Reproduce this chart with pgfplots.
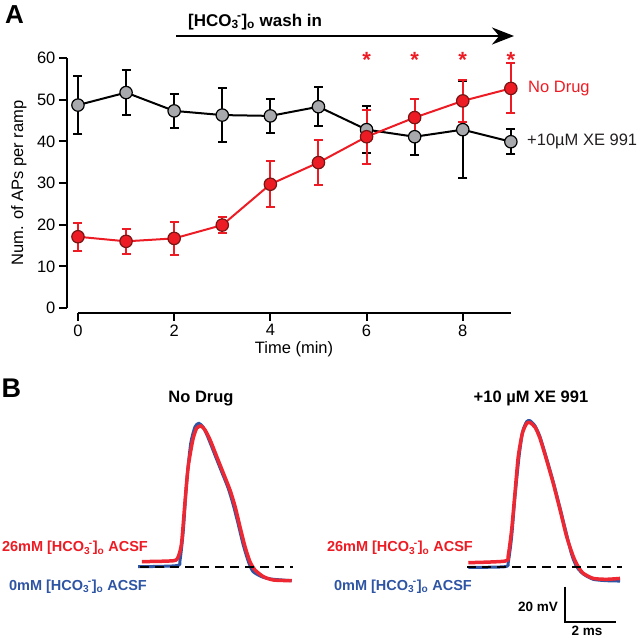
\documentclass[border=0pt]{standalone}
\usepackage{pgfplots}
\usepackage{pgfplotstable}
\pgfplotsset{compat=1.18}
\usepackage{fontspec}
\setmainfont{Liberation Sans}
\usetikzlibrary{arrows.meta}

\definecolor{ndred}{RGB}{237,28,36}
\definecolor{mkred}{RGB}{120,20,20}
\definecolor{trred}{RGB}{238,40,50}
\definecolor{trblue}{RGB}{46,84,164}
\definecolor{mgray}{RGB}{167,169,172}
\definecolor{txt}{RGB}{35,31,32}

\newcommand\fs[1]{\fontsize{#1bp}{#1bp}\selectfont}
\newcommand\hco{[HCO\textsubscript{3}\kern-0.1em\textsuperscript{-}]\textsubscript{o}}

% time (min), APs per ramp, error
\pgfplotstableread{
t n e
0 48.7 7.0
1 51.7 5.5
2 47.3 4.1
3 46.3 6.4
4 46.1 4.1
5 48.3 4.7
6 42.8 5.7
7 41.1 4.4
8 42.8 11.7
9 39.9 3.0
}\xedata

\pgfplotstableread{
t n e
0 17.1 3.4
1 16.0 3.0
2 16.7 4.0
3 19.9 2.0
4 29.7 5.5
5 34.9 5.4
6 41.1 6.5
7 45.7 4.5
8 49.7 5.0
9 52.7 6.0
}\nodrug

\begin{document}
\begin{tikzpicture}[x=1bp,y=1bp]
\path[use as bounding box] (0,0) rectangle (640,638);

% ---------------- panel A
\begin{axis}[
  at={(66.9bp,325bp)}, anchor=south west,
  scale only axis, width=472.8bp, height=255bp,
  xmin=-0.23, xmax=9.6, ymin=-1.2, ymax=60,
  axis x line*=bottom, axis y line*=left,
  axis line style={draw=none},
  xtick={0,2,...,8}, ytick={0,10,...,60},
  tick align=outside, major tick length=8bp,
  tick style={line width=2bp, black},
  ticklabel style={font=\fs{16.5}},
  /pgf/number format/assume math mode=true,
  clip=false,
]
\draw[line width=2.2bp] (axis cs:-0.23,0) -- (axis cs:-0.23,60);
\draw[line width=2.2bp] (axis cs:0,-1.2) -- (axis cs:9,-1.2);

\addplot[black, line width=2bp, mark=*, mark size=6.2bp,
  mark options={fill=mgray, draw=black, line width=1.2bp},
  error bars/.cd, y dir=both, y explicit,
  error bar style={line width=2bp, black},
  error mark options={rotate=90, line width=2bp, mark size=4.5bp, black}]
  table[x=t, y=n, y error=e] {\xedata};

\addplot[ndred, line width=2bp, mark=*, mark size=6.2bp,
  mark options={fill=ndred, draw=mkred, line width=1.2bp},
  error bars/.cd, y dir=both, y explicit,
  error bar style={line width=2bp, ndred},
  error mark options={rotate=90, line width=2bp, mark size=4.5bp, ndred}]
  table[x=t, y=n, y error=e] {\nodrug};

\pgfplotsinvokeforeach{6,7,8,9}{
  \node[ndred, font=\bfseries\fs{22}, anchor=base, inner sep=0] at (axis cs:#1,57.6) {*};
}
\end{axis}

\draw[line width=2.5bp, -{Stealth[length=22bp, width=17bp]}] (176,602) -- (514,602);
\node[anchor=base west, inner sep=0, font=\bfseries\fs{17}] at (188,611.9) {\hco\ wash in};

\node[anchor=base west, inner sep=0, text=ndred, font=\fs{16.5}] at (528,545.1) {No Drug};
\node[anchor=base west, inner sep=0, text=txt, font=\fs{16.5}] at (527,492.1) {+10µM XE 991};

\node[anchor=base, inner sep=0, rotate=90, font=\fs{16.5}] at (23,455) {Num. of APs per ramp};
\node[anchor=base, inner sep=0, font=\fs{16.5}] at (294,284) {Time (min)};

\node[anchor=base west, inner sep=0, font=\bfseries\fs{26}] at (5,614.6) {A};
\node[anchor=base west, inner sep=0, font=\bfseries\fs{27}] at (1.5,240.3) {B};

% ---------------- panel B, no drug
\begin{axis}[
  at={(127.25bp,10.05bp)}, anchor=south west,
  scale only axis, width=178.5bp, height=218.75bp,
  xmin=-0.5, xmax=6.5, ymin=-35, ymax=90,
  hide axis, clip=false,
]
\addplot[trblue, line width=3bp, smooth, tension=0.4] coordinates {
(-0.07,0) (1.44,0.6) (1.57,3.8) (1.70,21) (1.83,48.6) (1.99,70.5) (2.16,80)
(2.31,81.9) (2.48,79.7) (2.68,73.4) (2.94,63.8) (3.20,54.3) (3.46,44.8)
(3.66,35.2) (3.86,23.8) (4.05,12.4) (4.25,2.9) (4.44,-2.9) (4.84,-6.1)
(5.23,-7.2) (5.95,-8)};
\addplot[trred, line width=3.5bp, smooth, tension=0.4] coordinates {
(0.07,2.9) (1.31,3.4) (1.50,5.7) (1.63,13.4) (1.76,36.2) (1.89,57.1) (2.07,72.4)
(2.22,79.1) (2.39,80.4) (2.55,78.1) (2.75,72.4) (3.01,62.9) (3.27,53.4)
(3.53,43.8) (3.73,34.3) (3.92,22.9) (4.12,11.4) (4.31,2.9) (4.51,-1.9)
(4.84,-5.7) (5.23,-7.6) (5.95,-8.0)};
\addplot[black, line width=2bp, dash pattern=on 9bp off 6bp] coordinates {(0,0) (6,0)};
\end{axis}

% ---------------- panel B, +XE 991
\begin{axis}[
  at={(454.25bp,10.05bp)}, anchor=south west,
  scale only axis, width=178.5bp, height=218.75bp,
  xmin=-0.5, xmax=6.5, ymin=-35, ymax=90,
  hide axis, clip=false,
]
\addplot[trblue, line width=3bp, smooth, tension=0.4] coordinates {
(0.05,-0.4) (1.49,0) (1.62,2.9) (1.75,17.1) (1.88,40) (2.04,62.9) (2.18,77.1)
(2.34,82.9) (2.47,83.4) (2.67,80.4) (2.86,74.3) (3.12,61.9) (3.38,48.6)
(3.65,33.4) (3.91,18.1) (4.11,6.7) (4.30,0) (4.56,-4.2) (4.95,-7.2)
(5.48,-8) (6.0,-8.2)};
\addplot[trred, line width=3.5bp, smooth, tension=0.4] coordinates {
(0.05,2.3) (1.49,3.2) (1.62,6.7) (1.75,21) (1.88,41.9) (2.01,62.9) (2.17,76.2)
(2.34,81.9) (2.47,82.3) (2.67,79.7) (2.86,73.4) (3.12,61) (3.38,47.7)
(3.65,32.4) (3.91,17.1) (4.17,5.7) (4.36,0) (4.56,-3.8) (4.95,-6.7)
(5.48,-7.2) (6.0,-6.7)};
\addplot[black, line width=2bp, dash pattern=on 9bp off 6bp] coordinates {(0,0) (6.08,0)};
\draw[line width=2bp] (axis cs:3.84,-11.4) -- (axis cs:3.84,-31.4) -- (axis cs:5.84,-31.4);
\end{axis}

\node[anchor=base, inner sep=0, font=\bfseries\fs{16.5}] at (201,235.1) {No Drug};
\node[anchor=base, inner sep=0, font=\bfseries\fs{16.5}] at (531,235.3) {+10 µM XE 991};

\node[anchor=base east, inner sep=0, text=ndred, font=\bfseries\fs{14.5}] at (148,86.1) {26mM \hco\ ACSF};
\node[anchor=base east, inner sep=0, text=trblue, font=\bfseries\fs{14.5}] at (147,47.8) {0mM \hco\ ACSF};
\node[anchor=base east, inner sep=0, text=ndred, font=\bfseries\fs{14.5}] at (473,86.1) {26mM \hco\ ACSF};
\node[anchor=base east, inner sep=0, text=trblue, font=\bfseries\fs{14.5}] at (472,47.8) {0mM \hco\ ACSF};

\node[anchor=base east, inner sep=0, font=\bfseries\fs{13.5}] at (558,26.4) {20 mV};
\node[anchor=base, inner sep=0, font=\bfseries\fs{13.5}] at (587,2.5) {2 ms};
\end{tikzpicture}
\end{document}
